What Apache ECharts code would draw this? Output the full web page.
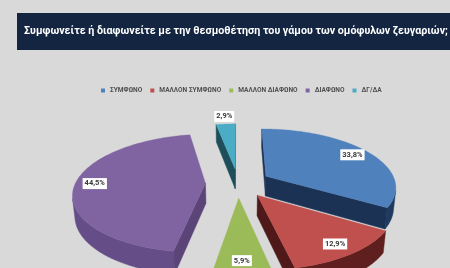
<!DOCTYPE html>
<html><head><meta charset="utf-8">
<script src="https://cdn.jsdelivr.net/npm/echarts@6/dist/echarts.min.js"></script>
<style>html,body{margin:0;padding:0;background:#d9d9d9}#c{width:450px;height:268px}</style>
</head><body><div id="c"></div>
<script>
const titleText = 'Συμφωνείτε ή διαφωνείτε με την θεσμοθέτηση του γάμου των ομόφυλων ζευγαριών;';
const categories = ['ΣΥΜΦΩΝΟ', 'ΜΑΛΛΟΝ ΣΥΜΦΩΝΟ', 'ΜΑΛΛΟΝ ΔΙΑΦΩΝΟ', 'ΔΙΑΦΩΝΟ', 'ΔΓ/ΔΑ'];
const values = [33.8, 12.9, 5.9, 44.5, 2.9];
const topColors = ['#4f81bd', '#c0504d', '#9bbb59', '#8064a2', '#4bacc6'];
const wallColors = ['#1f3a5e', '#5e1f1e', '#4e5e2c', '#654e88', '#22576a'];
const cutColors = ['#1c3254', '#4e1918', '#55652f', '#5a4478', '#1d4e5a'];

// layout of the 3D pie (projection parameters, not data)
const G = { cx: 238, cy: 183, s: 130, phi: 26.2 * Math.PI / 180, d: 5.28, explode: 0.25, depth: 0.175 };
const SP = Math.sin(G.phi), CP = Math.cos(G.phi);
const cam = [0, G.d * SP, G.d * CP];
const total = values.reduce((a, b) => a + b, 0);
const FONT = 'Roboto, "Open Sans", sans-serif';

function proj(X, Y, Z) {
  const dep = G.d - (Y * SP + Z * CP);
  const f = G.d / dep;
  return [G.cx + G.s * X * f, G.cy - G.s * (Y * CP - Z * SP) * f];
}
function visible(p, n) {
  return (cam[0] - p[0]) * n[0] + (cam[1] - p[1]) * n[1] + (cam[2] - p[2]) * n[2] > 0;
}
function sliceAngles(i, v) {
  let cum = 0;
  for (let k = 0; k < i; k++) cum += values[k];
  const t1 = 2 * Math.PI * cum / total;
  const t2 = 2 * Math.PI * (cum + v) / total;
  return [t1, t2, (t1 + t2) / 2];
}
function depthRank(i) {
  const zs = values.map((v, k) => { const a = sliceAngles(k, v); return -Math.cos(a[2]); });
  const order = zs.map((z, k) => k).sort((a, b) => zs[a] - zs[b]);
  return order.indexOf(i);
}
function fmt(v) { return v.toFixed(1).replace('.', ',') + '%'; }

function buildSlice(i, v) {
  const [t1, t2, tm] = sliceAngles(i, v);
  const ox = G.explode * Math.sin(tm), oz = -G.explode * Math.cos(tm);
  const arc = (t, Y, r) => { r = r == null ? 1 : r; return [ox + r * Math.sin(t), Y, oz - r * Math.cos(t)]; };
  const P = (p) => proj(p[0], p[1], p[2]);
  const H = -G.depth;
  const children = [];
  const rank = depthRank(i);
  const steps = Math.max(8, Math.ceil((t2 - t1) / (Math.PI / 180)));
  let run = [];
  const flush = () => {
    if (run.length > 1) {
      const pts = run.map(t => P(arc(t, 0))).concat(run.slice().reverse().map(t => P(arc(t, H))));
      children.push({ type: 'polygon', z2: 10 + rank, shape: { points: pts }, style: { fill: wallColors[i], stroke: wallColors[i], lineWidth: 0.5 } });
    }
    run = [];
  };
  for (let s = 0; s < steps; s++) {
    const a = t1 + (t2 - t1) * s / steps, b = t1 + (t2 - t1) * (s + 1) / steps, m = (a + b) / 2;
    const vis = visible(arc(m, 0), [Math.sin(m), 0, -Math.cos(m)]);
    if (vis) { if (run.length === 0) run.push(a); run.push(b); } else flush();
  }
  flush();
  const apex = [ox, 0, oz];
  const cut = (t, n) => {
    if (visible(apex, n)) {
      const pts = [P(apex), P(arc(t, 0)), P(arc(t, H)), P([ox, H, oz])];
      children.push({ type: 'polygon', z2: 10 + rank, shape: { points: pts }, style: { fill: cutColors[i], stroke: cutColors[i], lineWidth: 0.5 } });
    }
  };
  cut(t1, [-Math.cos(t1), 0, -Math.sin(t1)]);
  cut(t2, [Math.cos(t2), 0, Math.sin(t2)]);
  const topPts = [P(apex)];
  for (let s = 0; s <= steps; s++) topPts.push(P(arc(t1 + (t2 - t1) * s / steps, 0)));
  children.push({ type: 'polygon', z2: 50, shape: { points: topPts }, style: { fill: topColors[i], stroke: topColors[i], lineWidth: 0.3 } });
  const lr = v / total < 0.04 ? 1.2 : 0.85;
  const lp = P(arc(tm, 0, lr));
  children.push({
    type: 'text', z2: 100, x: lp[0], y: lp[1],
    style: {
      text: fmt(v), fill: '#3a3a3a', font: 'bold 7.5px ' + FONT, align: 'center', verticalAlign: 'middle',
      backgroundColor: '#ffffff', padding: [2, 2, 1, 2]
    }
  });
  return { type: 'group', children };
}

const chart = echarts.init(document.getElementById('c'), null, { renderer: 'canvas' });
chart.setOption({
  backgroundColor: '#d9d9d9',
  animation: false,
  color: topColors,
  graphic: [{ type: 'rect', z: 0, shape: { x: 17, y: 13, width: 450, height: 37 }, style: { fill: '#132541' } }],
  title: {
    text: titleText, left: 24, top: 26, padding: 0, z: 10,
    textStyle: { color: '#ffffff', fontWeight: 'bold', fontSize: 10.7, fontFamily: FONT }
  },
  legend: {
    data: categories, left: 96, top: 82, icon: 'rect', itemWidth: 4, itemHeight: 4, itemGap: 8,
    textStyle: { fontSize: 6.6, color: '#505050', fontWeight: 'bold', fontFamily: FONT }
  },
  series: categories.map((name, i) => ({
    type: 'custom', name: name, coordinateSystem: 'none', silent: true,
    itemStyle: { color: topColors[i] },
    data: [values[i]],
    renderItem: (params, api) => buildSlice(i, api.value(0))
  }))
});
</script></body></html>
